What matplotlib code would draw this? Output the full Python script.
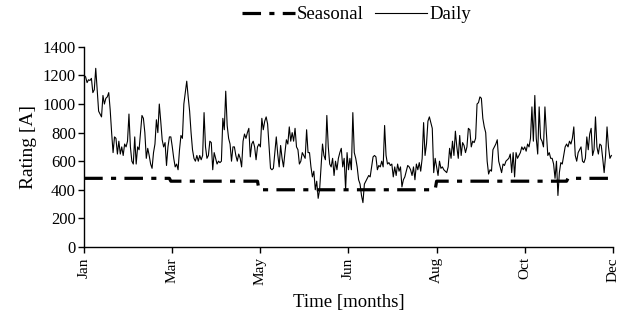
import numpy as np
import matplotlib
matplotlib.use("Agg")
import matplotlib.pyplot as plt

plt.rcParams.update({"font.family": ["Liberation Serif", "DejaVu Serif"], "font.size": 12})

# daily rating [A], one value per day, Jan..Dec (leap year, 366 days)
daily_jan_mar = [1200, 1190, 1150, 1170, 1165, 1180, 1080, 1100, 1250, 1100,
                 950, 930, 910, 1060, 1000, 1040, 1050, 1080, 960, 800,
                 660, 770, 760, 650, 740, 650, 700, 640, 720, 700,
                 740, 930, 700, 600, 580, 770, 580, 700, 680, 800,
                 920, 900, 800, 620, 690, 640, 580, 550, 660, 720,
                 890, 800, 1000, 880, 750, 700, 730, 570, 700, 770, 770]
daily_mar_may = [700, 620, 560, 580, 540, 680, 780, 760, 1000, 1080,
                 1160, 1050, 950, 800, 680, 620, 600, 640, 600, 640,
                 610, 640, 940, 700, 620, 640, 740, 730, 540, 660,
                 620, 580, 600, 590, 600, 900, 820, 1090, 850, 760,
                 720, 600, 700, 700, 640, 600, 650, 620, 560, 740,
                 790, 760, 800, 830, 630, 720, 740, 700, 610, 700, 720]
daily_may_jun = [700, 900, 820, 880, 910, 860, 700, 550, 540, 550,
                 660, 770, 650, 560, 710, 620, 560, 660, 750, 720,
                 840, 740, 800, 740, 830, 700, 680, 580, 600, 660,
                 640, 620, 820, 660, 660, 560, 490, 530, 400, 460,
                 340, 400, 560, 720, 640, 610, 920, 700, 580, 560,
                 620, 500, 600, 540, 620, 660, 690, 560, 620, 400, 660]
daily_jun_aug = [540, 620, 540, 940, 660, 620, 560, 470, 440, 360,
                 310, 440, 460, 480, 500, 490, 560, 630, 640, 630,
                 540, 570, 560, 600, 560, 850, 640, 580, 590, 570,
                 580, 490, 560, 500, 580, 530, 560, 420, 470, 490,
                 530, 570, 560, 540, 500, 560, 470, 580, 540, 590,
                 530, 620, 870, 640, 720, 880, 910, 870, 830, 520, 620]
daily_aug_oct = [560, 500, 600, 550, 560, 540, 530, 520, 560, 690,
                 620, 740, 640, 810, 700, 620, 780, 640, 730, 710,
                 660, 700, 830, 820, 700, 740, 730, 760, 1000, 1010,
                 1050, 1040, 900, 840, 800, 600, 510, 540, 530, 680,
                 700, 720, 750, 600, 560, 520, 580, 570, 600, 610,
                 620, 650, 520, 660, 490, 660, 620, 640, 660, 700, 680]
daily_oct_dec = [700, 670, 720, 700, 760, 980, 740, 1060, 760, 650,
                 980, 760, 740, 700, 980, 800, 640, 660, 620, 620,
                 580, 480, 600, 360, 520, 590, 580, 640, 700, 720,
                 700, 740, 720, 760, 840, 640, 600, 660, 680, 700,
                 600, 590, 620, 770, 680, 790, 830, 640, 680, 910,
                 700, 650, 720, 710, 620, 520, 640, 840, 700, 620, 640]

# seasonal rating [A] per calendar month
month_days = [31, 29, 31, 30, 31, 30, 31, 31, 30, 31, 30, 31]
seasonal_month = [480, 480, 460, 460, 400, 400, 400, 400, 460, 460, 460, 480]

tick_days = [0, 61, 122, 183, 244, 305, 366]
tick_labels = ["Jan", "Mar", "May", "Jun", "Aug", "Oct", "Dec"]

daily = np.array(daily_jan_mar + daily_mar_may + daily_may_jun
                 + daily_jun_aug + daily_aug_oct + daily_oct_dec)
seasonal = np.repeat(seasonal_month, month_days)
days = np.arange(len(daily))

fig = plt.figure(figsize=(6.19, 3.19), dpi=100)
ax = fig.add_axes([0.136, 0.226, 0.854, 0.627])

ax.plot(days, seasonal, color="black", lw=2.3, ls=(0, (5.8, 2.6, 1.6, 2.6)),
        label="Seasonal")
ax.plot(days, daily, color="black", lw=0.8, label="Daily")

ax.set_xlim(0, 366)
ax.set_ylim(0, 1400)
ax.set_yticks(np.arange(0, 1401, 200))
ax.set_xticks(tick_days)
ax.set_xticklabels(tick_labels, rotation=90, fontsize=11)
ax.tick_params(axis="both", direction="out", length=4, width=1, color="black")
ax.tick_params(axis="y", labelsize=12, pad=2)
for s in ("top", "right"):
    ax.spines[s].set_visible(False)
for s in ("left", "bottom"):
    ax.spines[s].set_linewidth(1)

ax.set_xlabel("Time [months]", fontsize=13.5, labelpad=6)
ax.set_ylabel("Rating [A]", fontsize=14, labelpad=4)

ax.legend(loc="center", bbox_to_anchor=(0.515, 1.16), ncol=2, frameon=False,
          fontsize=13.5, handlelength=2.8, handletextpad=0.1, columnspacing=0.6,
          borderaxespad=0, borderpad=0)

fig.savefig("out.png", dpi=100)
